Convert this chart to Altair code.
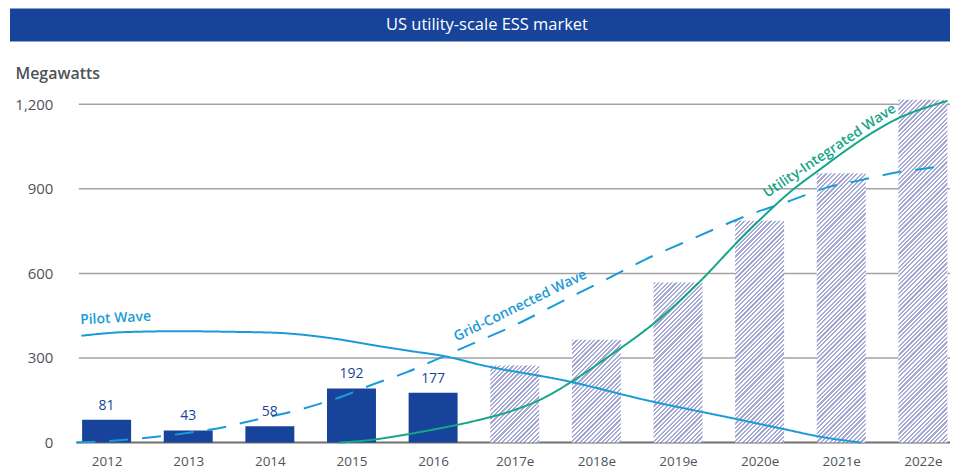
import json
import altair as alt

# ---------------- data ----------------
title_text = "US utility-scale ESS market"
y_title = "Megawatts"
years = ["2012", "2013", "2014", "2015", "2016", "2017e", "2018e", "2019e", "2020e", "2021e", "2022e"]
values = [81, 43, 58, 192, 177, 273, 365, 568, 787, 955, 1216]
n_actual = 5
y_ticks = [0, 300, 600, 900, 1200]

wave_names = ["Pilot Wave", "Grid-Connected Wave", "Utility-Integrated Wave"]

pilot_x = [-0.31, 0.24, 0.89, 1.5, 2.11, 2.73, 3.34, 3.74, 4.15, 4.56, 5.66, 6.6, 7.74, 8.31, 8.72, 9.24]
pilot_y = [379, 392, 395, 393, 389, 371, 342, 324, 306, 277, 217, 151, 82, 47, 22, 0]

grid_x = [-0.37, 0.32, 1.01, 1.48, 1.71, 2.38, 2.81, 3.26, 3.68, 4.13, 4.54, 4.96, 5.38, 5.78, 6.21, 6.61,
          7.05, 7.47, 7.90, 8.35, 8.84, 9.24, 9.69, 10.15, 10.3]
grid_y = [0, 12, 35, 57, 73, 118, 156, 206, 250, 306, 358, 411, 471, 530, 592, 651,
          707, 760, 811, 855, 906, 931, 959, 977, 985]

util_x = [2.85, 3.2, 3.6, 4.0, 4.5, 5.0, 5.29, 5.54, 5.68, 6.15, 6.76, 7.25, 7.74, 8.02, 8.39, 8.72,
          9.05, 9.33, 9.66, 10.14, 10.3]
util_y = [0, 8, 25, 46, 76, 116, 149, 188, 213, 305, 436, 566, 715, 795, 893, 965,
          1035, 1090, 1145, 1198, 1212]

label_x = [0.11, 5.07, 8.86]
label_y = [440, 485, 1034]
label_angle = [357, 334, 326]

# ---------------- style ----------------
FONT = "Open Sans"
DARK_BLUE = "#17449a"
LIGHT_BLUE = "#1a9bd7"
GREEN = "#15a589"
HATCH = "#a6a9d4"
GRID = "#a3a3a3"
ZERO = "#6f6f6f"
PX_UNIT = 81.8          # pixels per category step
LEFT_GUTTER = 69        # pixels between the plot's left edge and the data region
DATA_X0 = -0.34         # data-region left edge (category index units)
PLOT_W, PLOT_H = 942, 339
X_MIN = DATA_X0 - LEFT_GUTTER / PX_UNIT
X_MAX = X_MIN + PLOT_W / PX_UNIT
Y_MAX = 1200
BAR_HALF = 0.3
PERIOD = 4.4

px_mw = PLOT_H / Y_MAX


def hatch(value):
    w = 2 * BAR_HALF * PX_UNIT
    h = value * px_mw
    s = w + h
    k = s / (w * w + h * h)
    stops = []
    c = 0.0
    while c < s:
        a = c / s
        b = min((c + PERIOD / 2) / s, 1)
        d = min((c + PERIOD) / s, 1)
        stops += [
            {"offset": round(a, 5), "color": HATCH},
            {"offset": round(b, 5), "color": HATCH},
            {"offset": round(b, 5), "color": "#ffffff"},
            {"offset": round(d, 5), "color": "#ffffff"},
        ]
        c += PERIOD
    return {"gradient": "linear", "x1": 0, "y1": 0, "x2": k * w, "y2": k * h, "stops": stops}


bars = []
for i, (yr, v) in enumerate(zip(years, values)):
    rec = {"i": i, "year": yr, "value": v, "x0": i - BAR_HALF, "x1": i + BAR_HALF,
           "actual": i < n_actual}
    if i >= n_actual:
        rec["grad"] = hatch(v)
    bars.append(rec)

lines = []
for name, xs, ys in zip(wave_names, [pilot_x, grid_x, util_x], [pilot_y, grid_y, util_y]):
    for xx, yy in zip(xs, ys):
        lines.append({"series": name, "x": xx, "v": yy})

labels = [{"name": n, "x": xx, "v": yy, "angle": a, "col": c}
          for n, xx, yy, a, c in zip(wave_names, label_x, label_y, label_angle,
                                      [LIGHT_BLUE, LIGHT_BLUE, GREEN])]

grid_rows = [{"tick": t, "zero": t == 0} for t in y_ticks]

xscale = alt.Scale(domain=[X_MIN, X_MAX], nice=False, zero=False)
yscale = alt.Scale(domain=[0, Y_MAX], nice=False)

xaxis = alt.Axis(values=list(range(len(years))), labelExpr=json.dumps(years) + "[datum.value]",
                 title=None, grid=False, ticks=False, domain=False,
                 labelFont=FONT, labelFontSize=13.5, labelColor="#4f545a", labelPadding=12)
yaxis = alt.Axis(values=y_ticks, format=",.0f", title=y_title, titleAngle=0, titleAlign="left",
                 titleX=5, titleY=-31, titleBaseline="middle", titleFont=FONT,
                 titleFontSize=16, titleFontWeight=600, titleColor="#4d5359",
                 domain=False, ticks=False, grid=False, labelAlign="right",
                 labelFont=FONT, labelFontSize=15, labelColor="#4f545a", labelPadding=-43)

grid_layer = alt.Chart(alt.Data(values=grid_rows)).mark_rule().encode(
    x=alt.X("x0:Q", scale=xscale, axis=xaxis),
    x2="x1:Q",
    y=alt.Y("tick:Q", scale=yscale, axis=yaxis),
    color=alt.condition("datum.zero", alt.value(ZERO), alt.value(GRID)),
    strokeWidth=alt.condition("datum.zero", alt.value(2), alt.value(1.5)),
).transform_calculate(
    x0=f"datum.zero ? {DATA_X0 - 0.03} : {DATA_X0}", x1=f"{X_MAX}"
)

bar_data = alt.Data(values=bars)

solid = alt.Chart(bar_data).transform_filter("datum.actual").mark_rect(color=DARK_BLUE).encode(
    x=alt.X("x0:Q", scale=xscale),
    x2="x1:Q",
    y=alt.Y("value:Q", scale=yscale),
    y2=alt.datum(0),
)

hatched = alt.Chart(bar_data).transform_filter("!datum.actual").mark_rect().encode(
    x=alt.X("x0:Q", scale=xscale),
    x2="x1:Q",
    y=alt.Y("value:Q", scale=yscale),
    y2=alt.datum(0),
    fill=alt.Fill("grad:N", scale=None),
)

bar_text = alt.Chart(bar_data).transform_filter("datum.actual").mark_text(
    font=FONT, fontSize=14, color=DARK_BLUE, baseline="bottom", dy=-7
).encode(
    x=alt.X("i:Q", scale=xscale),
    y=alt.Y("value:Q", scale=yscale),
    text="value:Q",
)

wave_lines = alt.Chart(alt.Data(values=lines)).mark_line(interpolate="monotone", strokeWidth=2).encode(
    x=alt.X("x:Q", scale=xscale),
    y=alt.Y("v:Q", scale=yscale),
    color=alt.Color("series:N", scale=alt.Scale(domain=wave_names, range=[LIGHT_BLUE, LIGHT_BLUE, GREEN]),
                    legend=None),
    strokeDash=alt.StrokeDash("series:N", scale=alt.Scale(domain=wave_names, range=[[1, 0], [19, 14], [1, 0]]),
                              legend=None),
)

wave_text = alt.Chart(alt.Data(values=labels)).mark_text(
    font=FONT, fontSize=14, fontWeight=600, baseline="middle", align="center"
).encode(
    x=alt.X("x:Q", scale=xscale),
    y=alt.Y("v:Q", scale=yscale),
    text="name:N",
    angle=alt.Angle("angle:Q", scale=None),
    color=alt.Color("col:N", scale=None),
)

main = alt.layer(grid_layer, solid, hatched, wave_lines, bar_text, wave_text).properties(
    width=PLOT_W, height=PLOT_H)

header = alt.Chart(alt.Data(values=[{"t": title_text}])).mark_text(
    font=FONT, fontSize=16.5, fontWeight=500, color="white", align="center", baseline="middle"
).encode(
    text="t:N",
    x=alt.value(478),
    y=alt.value(16.5),
).properties(width=PLOT_W, height=33, view=alt.ViewBackground(fill=DARK_BLUE, strokeWidth=0))

chart = alt.vconcat(header, main, spacing=24).properties(
    padding={"left": 2, "top": 0, "right": 0, "bottom": 0}
).configure_view(strokeWidth=0)

chart.save("out.html", embed_options={"renderer": "svg", "actions": False})
